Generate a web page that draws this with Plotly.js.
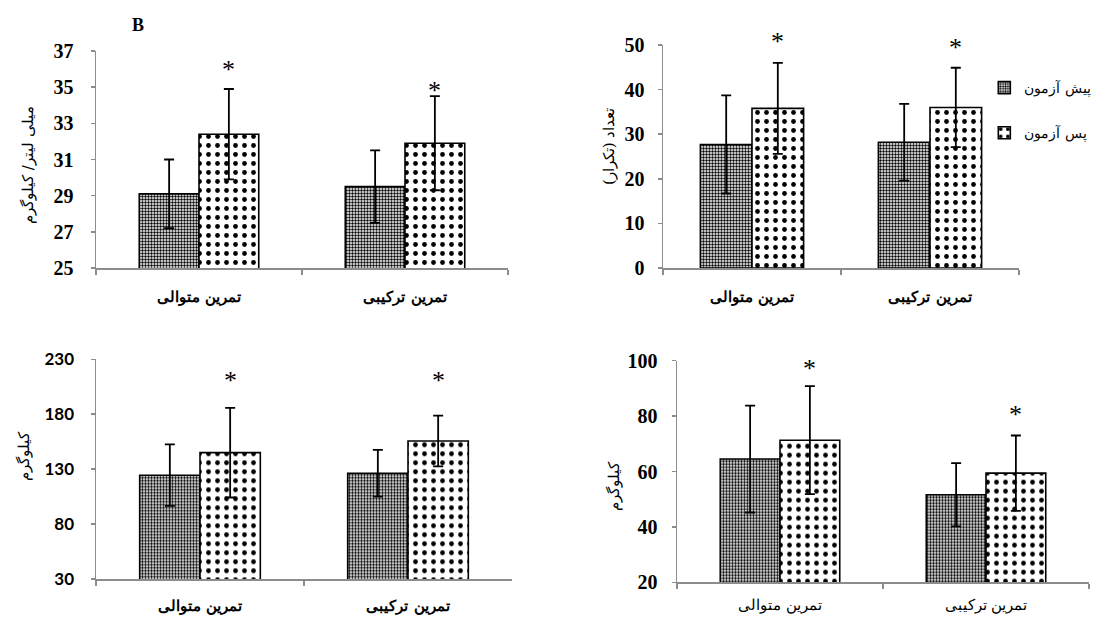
<!DOCTYPE html>
<html>
<head>
<meta charset="utf-8">
<script src="https://cdn.plot.ly/plotly-3.0.1.min.js"></script>
<style>html,body{margin:0;padding:0;background:#fff;}#chart{width:1116px;height:624px;}</style>
</head>
<body>
<div id="chart"></div>
<script>
// ---- data ----
const categories = ['تمرین متوالی', 'تمرین ترکیبی'];
const seriesNames = ['پیش آزمون', 'پس آزمون'];

// top-left: ml/kg
const tlPre = [29.1, 29.5];
const tlPreErr = [1.9, 2.0];
const tlPost = [32.4, 31.9];
const tlPostErr = [2.5, 2.6];
const tlStars = [36.0, 34.8];
const tlTicks = [25, 27, 29, 31, 33, 35, 37];

// top-right: count (reps)
const trPre = [27.7, 28.2];
const trPreErr = [11.0, 8.6];
const trPost = [35.8, 36.0];
const trPostErr = [10.2, 8.9];
const trStars = [50.8, 49.4];
const trTicks = [0, 10, 20, 30, 40, 50];

// bottom-left: kg
const blPre = [124.5, 126.2];
const blPreErr = [28.0, 21.3];
const blPost = [145.0, 155.6];
const blPostErr = [40.8, 23.1];
const blStars = [211, 211];
const blTicks = [30, 80, 130, 180, 230];

// bottom-right: kg
const brPre = [64.5, 51.6];
const brPreErr = [19.3, 11.4];
const brPost = [71.3, 59.4];
const brPostErr = [19.5, 13.6];
const brStars = [97.2, 80.6];
const brTicks = [20, 40, 60, 80, 100];

const yTitles = ['میلی لیتر/ کیلوگرم', 'تعداد (تکرار)', 'کیلوگرم', 'کیلوگرم'];

// ---- styling ----
const prePattern = {shape: '.', size: 3, solidity: 0.5, fgcolor: '#000', bgcolor: '#fff', fgopacity: 1, fillmode: 'overlay'};
const postPattern = {shape: '.', size: 9, solidity: 0.22, fgcolor: '#000', bgcolor: '#fff', fgopacity: 1, fillmode: 'overlay'};
const errStyle = (arr) => ({type: 'data', array: arr, visible: true, color: '#000', thickness: 1.8, width: 5});
const serifBold = {family: 'Liberation Serif, Times New Roman, serif', size: 20, color: '#000', weight: 'bold'};
const sansBold = {family: 'Lato, Open Sans, sans-serif', size: 17, color: '#000', weight: 'bold'};
const arFont = (bold, size) => ({family: 'DejaVu Serif, Liberation Serif, serif', size: size, color: '#000', weight: bold ? 'bold' : 'normal'});

const panels = [
  {pre: tlPre, preErr: tlPreErr, post: tlPost, postErr: tlPostErr, stars: tlStars, ticks: tlTicks, xa: 'x', ya: 'y', legend: true, px: 217},
  {pre: trPre, preErr: trPreErr, post: trPost, postErr: trPostErr, stars: trStars, ticks: trTicks, xa: 'x2', ya: 'y2', legend: false, px: 223},
  {pre: blPre, preErr: blPreErr, post: blPost, postErr: blPostErr, stars: blStars, ticks: blTicks, xa: 'x3', ya: 'y3', legend: false, px: 219.7},
  {pre: brPre, preErr: brPreErr, post: brPost, postErr: brPostErr, stars: brStars, ticks: brTicks, xa: 'x4', ya: 'y4', legend: false, px: 221.6}
];

const traces = [];
const annotations = [];
panels.forEach((p, i) => {
  traces.push({type: 'bar', x: categories, y: p.pre, name: seriesNames[0], xaxis: p.xa, yaxis: p.ya,
    marker: {color: '#fff', pattern: prePattern, line: {color: '#000', width: 1.6}},
    error_y: errStyle(p.preErr), showlegend: p.legend, legendgroup: 'pre', hoverinfo: 'skip'});
  traces.push({type: 'bar', x: categories, y: p.post, name: seriesNames[1], xaxis: p.xa, yaxis: p.ya,
    marker: {color: '#fff', pattern: postPattern, line: {color: '#000', width: 1.6}},
    error_y: errStyle(p.postErr), showlegend: p.legend, legendgroup: 'post', hoverinfo: 'skip'});
  const lo = p.ticks[0], hi = p.ticks[p.ticks.length - 1];
  const pxPerUnit = p.px / (hi - lo);
  p.stars.forEach((s, j) => {
    const yy = Math.min(s, hi);
    annotations.push({xref: p.xa, yref: p.ya, x: j + 0.145, y: yy, yshift: (s - yy) * pxPerUnit, text: '*', showarrow: false,
      font: {family: 'Liberation Serif, serif', size: 26, color: '#000'}, yanchor: 'middle', xanchor: 'center'});
  });
});

// y titles
const yTitlePos = [[28, 165], [609, 147], [24, 456], [614, 486]];
yTitlePos.forEach((pos, i) => {
  annotations.push({xref: 'paper', yref: 'paper', x: pos[0] / 1116, y: 1 - pos[1] / 624, text: yTitles[i],
    textangle: -90, showarrow: false, xanchor: 'center', yanchor: 'middle', font: arFont(false, 15)});
});
annotations.push({xref: 'paper', yref: 'paper', x: 138 / 1116, y: 1 - 25 / 624, text: 'B', showarrow: false,
  xanchor: 'center', yanchor: 'middle', font: {family: 'Liberation Serif, serif', size: 18, color: '#000', weight: 'bold'}});

const axisCommon = {showline: true, linecolor: '#8c8c8c', linewidth: 1.5, ticks: 'outside', tickcolor: '#8c8c8c',
  ticklen: 4, tickwidth: 1.5, showgrid: false, zeroline: false, fixedrange: true};

function xAxis(domain, anchor, bold, standoff) {
  return Object.assign({}, axisCommon, {domain: domain, anchor: anchor, type: 'category', tickson: 'boundaries',
    tickfont: arFont(bold, 15), ticklabelstandoff: standoff, ticklen: 5});
}
function yAxis(domain, anchor, ticks, font, standoff) {
  return Object.assign({}, axisCommon, {domain: domain, anchor: anchor, range: [ticks[0], ticks[ticks.length - 1]],
    tickmode: 'array', tickvals: ticks, ticktext: ticks.map(t => '<b>' + t + '</b>'), tickfont: font, ticklabelstandoff: standoff});
}

const layout = {
  width: 1116, height: 624,
  margin: {l: 0, r: 0, t: 0, b: 0},
  paper_bgcolor: '#fff', plot_bgcolor: 'rgba(0,0,0,0)',
  barmode: 'group', bargap: 0.42, bargroupgap: 0,
  showlegend: true,
  legend: {x: 0.882, y: 1 - 72 / 624, xanchor: 'left', yanchor: 'top', bgcolor: 'rgba(0,0,0,0)',
    font: arFont(false, 14), tracegroupgap: 24, traceorder: 'grouped', itemwidth: 30},
  xaxis: xAxis([96 / 1116, 508 / 1116], 'y', true, 14),
  yaxis: yAxis([1 - 268 / 624, 1 - 51 / 624], 'x', tlTicks, serifBold, 13),
  xaxis2: xAxis([663 / 1116, 1019 / 1116], 'y2', true, 14),
  yaxis2: yAxis([1 - 268 / 624, 1 - 45 / 624], 'x2', trTicks, serifBold, 9),
  xaxis3: xAxis([96 / 1116, 512 / 1116], 'y3', true, 12),
  yaxis3: yAxis([1 - 579 / 624, 1 - 359.3 / 624], 'x3', blTicks, sansBold, 13),
  xaxis4: xAxis([677 / 1116, 1089 / 1116], 'y4', false, 8),
  yaxis4: yAxis([1 - 582.3 / 624, 1 - 360.7 / 624], 'x4', brTicks, serifBold, 10),
  annotations: annotations
};

Plotly.newPlot('chart', traces, layout, {staticPlot: true, displayModeBar: false});
</script>
</body>
</html>
